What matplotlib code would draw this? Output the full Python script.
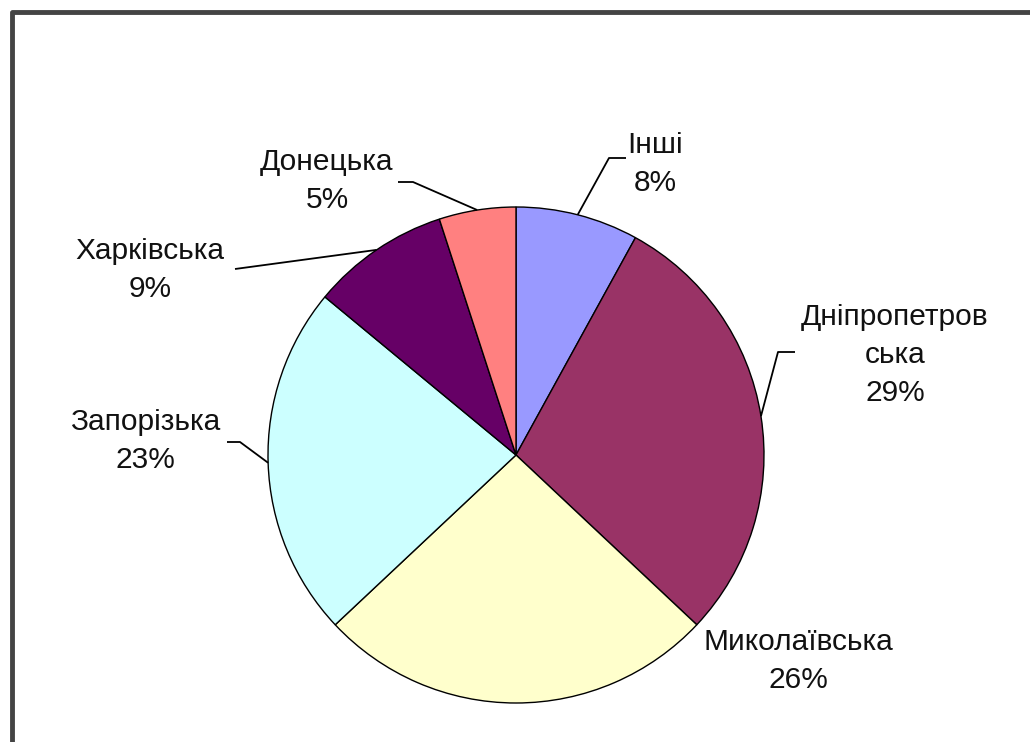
import matplotlib
matplotlib.use('AGG')
import numpy as np
import matplotlib.pyplot as plt

# data
regions = ['Інші', 'Дніпропетров\nська', 'Миколаївська', 'Запорізька', 'Харківська', 'Донецька']
shares = [8, 29, 26, 23, 9, 5]
colors = ['#9999FF', '#993366', '#FFFFCC', '#CCFFFF', '#660066', '#FF8080']

# label layout in pixels (x, y from top): text centre, leader elbow, leader end
label_pos = [(655, 164), (895, 355), (798, 661), (145, 441), (150, 270), (327, 181)]
leaders = [
    [(609, 158), (626, 158)],
    [(778, 352), (795, 352)],
    None,
    [(240, 442), (227, 442)],
    [(235, 269)],
    [(413, 182), (398, 182)],
]

W, H = 1030, 742
plt.rcParams['font.family'] = ['Liberation Sans', 'DejaVu Sans']

fig = plt.figure(figsize=(W / 100, H / 100), dpi=100)
ax = fig.add_axes([0, 0, 1, 1])

cx, cy, r = 516, H - 455, 248
wedges, _ = ax.pie(shares, colors=colors, startangle=90, counterclock=False,
                   center=(cx, cy), radius=r, frame=True,
                   wedgeprops=dict(edgecolor='black', linewidth=1.0))
ax.set_xlim(0, W)
ax.set_ylim(0, H)
ax.set_aspect('equal')
ax.axis('off')

for w, name, val, (tx, ty), lead in zip(wedges, regions, shares, label_pos, leaders):
    ang = np.deg2rad((w.theta1 + w.theta2) / 2)
    ex, ey = cx + r * np.cos(ang), cy + r * np.sin(ang)
    if lead:
        xs = [ex] + [p[0] for p in lead]
        ys = [ey] + [H - p[1] for p in lead]
        ax.plot(xs, ys, color='black', lw=1.3, solid_capstyle='butt')
    ax.text(tx, H - ty, f'{name}\n{val}%', ha='center', va='center',
            fontsize=21.5, linespacing=1.45, color='#111111')

# border (only top and left visible)
ax.plot([12, 12, W], [0, H - 12, H - 12], color='#444444', lw=3.5,
        solid_joinstyle='round')

fig.savefig('out.png', dpi=100)
